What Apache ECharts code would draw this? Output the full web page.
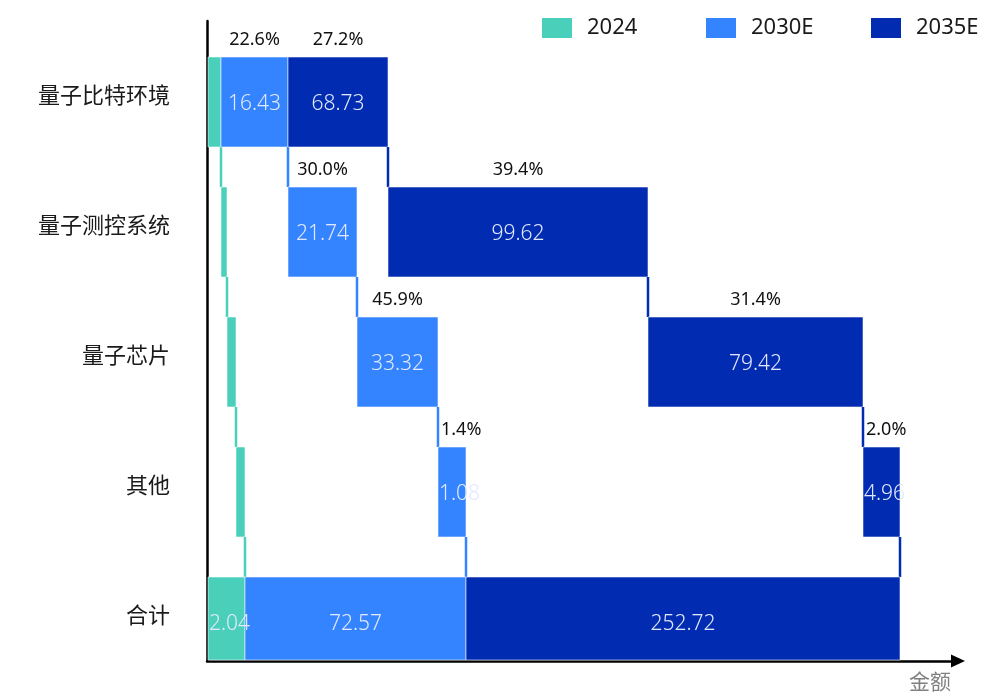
<!DOCTYPE html>
<html>
<head>
<meta charset="utf-8">
<script src="https://cdn.jsdelivr.net/npm/echarts@6/dist/echarts.min.js"></script>
<style>html,body{margin:0;padding:0;background:#fff}#c{width:995px;height:699px}</style>
</head>
<body>
<div id="c"></div>
<script>
// ---- data ----
const categories = ['量子比特环境', '量子测控系统', '量子芯片', '其他', '合计'];
const years = ['2024', '2030E', '2035E'];
// labelled market values (the numbers printed in the bars)
const values2024 = [null, null, null, null, 2.04];
const values2030 = [16.43, 21.74, 33.32, 1.08, 72.57];
const values2035 = [68.73, 99.62, 79.42, 4.96, 252.72];
// share labels printed above the bars
const shares2024 = [null, null, null, null, null];
const shares2030 = ['22.6%', '30.0%', '45.9%', '1.4%', null];
const shares2035 = ['27.2%', '39.4%', '31.4%', '2.0%', null];
// bar lengths as drawn in the picture (waterfall steps, not to the printed scale)
const drawn2024 = [5.2, 2.4, 3.6, 3.6];
const drawn2030 = [26.8, 27.6, 32.4, 11.2];
const drawn2035 = [40, 104, 86, 14.8];

// ---- layout / style ----
const COLORS = ['#4AD0BA', '#3384FE', '#012CB1'];
const FRAME = { left: 207, top: 21, right: 37, bottom: 38 };
const DATA_GRID = { left: 208, top: 37, right: 37, bottom: 12 };
const BAR_RATIO = 90 / 130;
const LEGEND_LEFT = [542, 706, 871];

const valueLabels = [values2024, values2030, values2035].map(a => a.map(v => v == null ? '' : String(v)));
const shareLabels = [shares2024, shares2030, shares2035];
const drawn = [drawn2024, drawn2030, drawn2035];

// build waterfall segments: [start, end, row]
const segs = [];
let prevFirstEnd = 0, prevFinalEnd = 0;
drawn.forEach((lens, k) => {
  const list = [];
  let s = k === 0 ? 0 : prevFirstEnd;
  lens.forEach((len, r) => {
    list.push([s, s + len, r]);
    s += len;
  });
  list.push([k === 0 ? 0 : prevFinalEnd, s, lens.length]);
  prevFirstEnd = list[0][1];
  prevFinalEnd = s;
  segs.push(list);
});

function makeRender(k) {
  return function (params, api) {
    const i = params.dataIndex;
    const start = api.value(0), end = api.value(1), row = api.value(2);
    const a = api.coord([start, row]);
    const b = api.coord([end, row]);
    const band = api.size([0, 1])[1];
    const h = band * BAR_RATIO;
    const cy = a[1];
    const top = cy - h / 2;
    const bottom = Math.min(cy + h / 2, api.getHeight() - FRAME.bottom - 1);
    const color = api.visual('color');
    const w = b[0] - a[0];
    const children = [{
      type: 'rect',
      shape: { x: a[0], y: top, width: w, height: bottom - top },
      style: { fill: color, stroke: 'rgba(255,255,255,0.55)', lineWidth: 1 }
    }];
    const vl = valueLabels[k][i];
    if (vl) {
      const narrowV = w < 50;
      children.push({
        type: 'text', z2: 50,
        style: {
          text: vl, x: narrowV ? a[0] + 1 : (a[0] + b[0]) / 2, y: cy + 2,
          align: narrowV ? 'left' : 'center', textAlign: narrowV ? 'left' : 'center',
          verticalAlign: 'middle', textVerticalAlign: 'middle',
          fill: '#e2e8ff', fontSize: 21, fontWeight: 300, fontFamily: '"Noto Sans", sans-serif'
        }
      });
    }
    const pl = shareLabels[k][i];
    if (pl) {
      const narrow = w < 60;
      children.push({
        type: 'text', z2: 50,
        style: {
          text: pl, x: narrow ? a[0] + 3 : (a[0] + b[0]) / 2, y: top - 17,
          align: narrow ? 'left' : 'center', textAlign: narrow ? 'left' : 'center',
          verticalAlign: 'middle', textVerticalAlign: 'middle',
          fill: '#111', fontSize: 18, fontFamily: '"Noto Sans", sans-serif'
        }
      });
    }
    if (row < categories.length - 1) {
      const nextTop = cy + band - h / 2;
      children.push({
        type: 'line',
        shape: { x1: b[0], y1: bottom, x2: b[0], y2: nextTop },
        style: { stroke: color, lineWidth: 2.5 }
      });
    }
    return { type: 'group', children };
  };
}

const chart = echarts.init(document.getElementById('c'));
chart.setOption({
  animation: false,
  backgroundColor: '#fff',
  legend: years.map((y, k) => ({
    data: [{ name: y, icon: 'rect' }],
    left: LEGEND_LEFT[k], top: 17, padding: 0,
    itemWidth: 30, itemHeight: 20, selectedMode: false,
    textStyle: { fontSize: 22, color: '#1a1a1a', fontFamily: '"Noto Sans", sans-serif', padding: [0, 0, 0, 10] }
  })),
  grid: [
    { left: DATA_GRID.left, top: DATA_GRID.top, right: DATA_GRID.right, bottom: DATA_GRID.bottom },
    { left: FRAME.left, top: FRAME.top, right: FRAME.right, bottom: FRAME.bottom }
  ],
  xAxis: [
    { gridIndex: 0, type: 'value', min: 0, max: 300, show: false },
    {
      gridIndex: 1, type: 'value', min: 0, max: 1,
      axisLine: { show: true, onZero: false, lineStyle: { color: '#000', width: 2.5 }, symbol: ['none', 'triangle'], symbolSize: [13, 14] },
      axisTick: { show: false }, axisLabel: { show: false }, splitLine: { show: false },
      name: '金额', nameLocation: 'end', nameGap: -7,
      nameTextStyle: { color: '#808080', fontSize: 21, align: 'right', verticalAlign: 'top', padding: [10, 0, 0, 0], fontFamily: '"Noto Sans CJK SC", sans-serif' }
    }
  ],
  yAxis: [
    {
      gridIndex: 0, type: 'category', inverse: true, data: categories,
      axisLine: { show: false }, axisTick: { show: false }, splitLine: { show: false },
      axisLabel: { margin: 38, fontSize: 22, color: '#1a1a1a', fontFamily: '"Noto Sans CJK SC", sans-serif', verticalAlign: 'bottom', lineHeight: 14 }
    },
    {
      gridIndex: 1, type: 'value', min: 0, max: 1,
      axisLine: { show: true, onZero: false, lineStyle: { color: '#000', width: 2.5 } },
      axisTick: { show: false }, axisLabel: { show: false }, splitLine: { show: false }
    }
  ],
  series: years.map((y, k) => ({
    name: y,
    type: 'custom',
    xAxisIndex: 0, yAxisIndex: 0,
    itemStyle: { color: COLORS[k] },
    encode: { x: [0, 1], y: 2 },
    renderItem: makeRender(k),
    data: segs[k]
  }))
});
</script>
</body>
</html>
